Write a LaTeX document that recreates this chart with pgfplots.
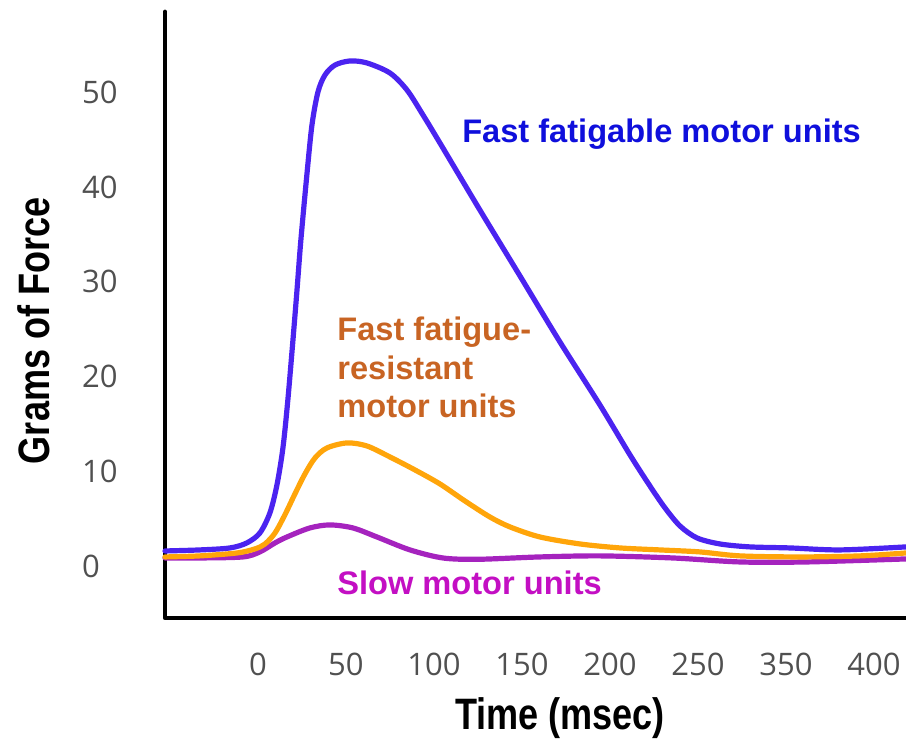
\documentclass[border=0pt]{standalone}
\usepackage{pgfplots}
\pgfplotsset{compat=1.18}
\usepackage{fontspec}
\setmainfont{Liberation Sans}
\newfontfamily\tickfont{Open Sans}
\newfontfamily\labfont[FakeStretch=0.82]{Liberation Sans}

\definecolor{fastline}{RGB}{75,35,240}
\definecolor{fasttext}{RGB}{15,15,220}
\definecolor{frline}{RGB}{255,165,10}
\definecolor{frtext}{RGB}{200,100,35}
\definecolor{slowline}{RGB}{165,35,190}
\definecolor{slowtext}{RGB}{195,15,195}
\definecolor{tickgray}{RGB}{80,80,80}

\begin{document}
\begin{tikzpicture}
\useasboundingbox (-82.5pt,-61.5pt) rectangle (370.5pt,309pt);
\begin{axis}[
  at={(0,0)}, anchor=south west,
  scale only axis,
  width=370.5pt, height=303pt,
  xmin=-52.8, xmax=368.2,
  ymin=-5.5, ymax=58.5,
  axis lines=left,
  axis line style={draw=none},
  tick style={draw=none},
  xtick={0,50,100,150,200,250,300,350},
  xticklabels={0,50,100,150,200,250,350,400},
  ytick={0,10,20,30,40,50},
  yticklabels={0,10,20,30,40,50},
  tick label style={font=\tickfont\fontsize{15.5pt}{18pt}\selectfont, text=tickgray, inner sep=0pt},
  xticklabel style={anchor=center, yshift=-21pt},
  yticklabel style={anchor=west, xshift=-39.5pt},
  xlabel={\labfont\bfseries Time (msec)},
  ylabel={\labfont\bfseries Grams of Force},
  label style={font=\fontsize{22pt}{26pt}\selectfont},
  xlabel style={at={(axis description cs:0.533,-0.165)}, anchor=center},
  ylabel style={at={(axis description cs:-0.1768,0.474)}, anchor=center},
  clip=false,
  every axis plot/.append style={line width=2.6pt, smooth, tension=0.5, line join=round, line cap=round},
]
% axis frame: left and bottom only
\draw[line width=2.4pt, line join=round, line cap=round] (rel axis cs:0,1) -- (rel axis cs:0,0) -- (rel axis cs:1,0);

% slow motor units
\addplot[slowline] coordinates {
(-52.8,0.84) (-33,0.84) (-8.5,0.95) (1.1,1.48) (9.7,2.43) (16.5,3.06)
(29.5,4.01) (40.9,4.33) (54.0,4.01) (67.6,3.06) (86.4,1.69) (105.1,0.84)
(125,0.70) (160.2,0.95) (194.3,1.06) (235.8,0.84) (273.9,0.42)
(311.9,0.42) (368.2,0.74)
};
% fast fatigue-resistant
\addplot[frline] coordinates {
(-52.8,0.95) (-33.0,1.06) (-11.9,1.37) (-1.7,1.80) (4.0,2.32) (9.7,3.48)
(15.3,5.39) (21.0,7.60) (26.7,9.71) (32.4,11.40) (39.2,12.46) (50.6,12.99)
(61.9,12.67) (75.0,11.51) (89.2,10.14) (103.4,8.66) (117.6,6.86)
(131.8,5.17) (143.2,4.12) (160.2,3.06) (183.0,2.32) (205.7,1.90)
(228.4,1.69) (251.1,1.48) (273.9,1.06) (308.0,0.95) (342.0,1.06) (368.2,1.37)
};
% fast fatigable
\addplot[fastline] coordinates {
(-52.8,1.58) (-33.0,1.69) (-15.9,1.90) (-6.3,2.43) (1.1,3.48) (6.8,5.60)
(10.8,8.55) (14.2,12.46) (17.0,17.53) (19.9,23.86) (22.2,29.14)
(24.4,34.42) (27.8,41.29) (30.7,46.57) (34.1,50.05) (38.1,51.85)
(43.8,52.90) (52.3,53.33) (61.9,53.12) (75.0,52.06) (84.7,50.26)
(93.8,47.62) (103.4,44.67) (126.1,37.59) (148.9,30.62) (171.6,23.65)
(194.3,17.00) (211.4,11.72) (222.7,8.45) (231.3,6.12) (239.8,4.22)
(249.4,2.96) (262.5,2.32) (279.5,2.01) (302.3,1.90) (330.7,1.69) (368.2,2.01)
};

\node[anchor=base west, inner sep=0pt, text=fasttext, font=\fontsize{16.3pt}{19.5pt}\selectfont\bfseries]
  at (axis cs:115.9,44.77) {Fast fatigable motor units};
\node[anchor=base west, inner sep=0pt, text=frtext, font=\fontsize{16.3pt}{19.5pt}\selectfont\bfseries]
  at (axis cs:44.9,23.86) {Fast fatigue-};
\node[anchor=base west, inner sep=0pt, text=frtext, font=\fontsize{16.3pt}{19.5pt}\selectfont\bfseries]
  at (axis cs:44.9,19.64) {resistant};
\node[anchor=base west, inner sep=0pt, text=frtext, font=\fontsize{16.3pt}{19.5pt}\selectfont\bfseries]
  at (axis cs:44.9,15.63) {motor units};
\node[anchor=base west, inner sep=0pt, text=slowtext, font=\fontsize{16.3pt}{19.5pt}\selectfont\bfseries]
  at (axis cs:44.9,-3.06) {Slow motor units};
\end{axis}
\end{tikzpicture}
\end{document}
